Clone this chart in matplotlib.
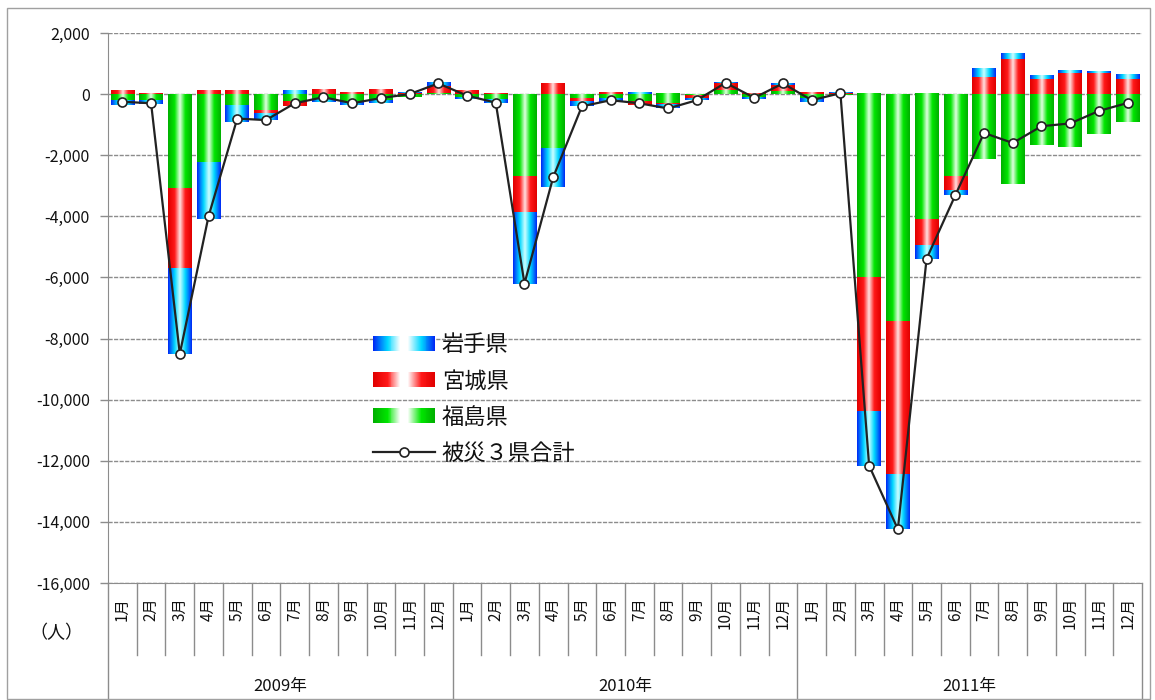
import numpy as np
import matplotlib
matplotlib.use("Agg")
import matplotlib.pyplot as plt
from matplotlib.patches import Rectangle
from matplotlib.legend_handler import HandlerBase
from matplotlib.ticker import FuncFormatter, MultipleLocator

plt.rcParams['font.family'] = ['Noto Sans CJK JP', 'DejaVu Sans']

# ---- data: monthly population change (persons) ----
years = ['2009年', '2010年', '2011年']
months = [f'{m}月' for m in range(1, 13)]

fukushima = [-200, -200, -3100, -2250, -350, -550, -250, -180, -250, -200, -80, 50,
             -100, -200, -2700, -1780, -150, -150, -250, -300, -50, 150, -100, 100,
             -150, -20, -5990, -7460, -4130, -2710, -2110, -2930, -1670, -1730, -1310, -910]
miyagi = [100, 30, -2600, 100, 100, -100, -150, 150, 50, 150, 50, 200,
          100, 20, -1150, 330, -100, 50, -100, -50, -100, 200, 30, 200,
          50, 40, -4370, -4980, -820, -440, 570, 1140, 510, 700, 700, 480]
iwate = [-150, -130, -2800, -1850, -550, -200, 100, -70, -100, -80, 30, 100,
         -50, -100, -2350, -1270, -150, -100, 50, -120, -50, 20, -50, 50,
         -100, 10, -1800, -1800, -440, -160, 270, 190, 110, 70, 60, 140]

series_names = ['岩手県', '宮城県', '福島県']
total_name = '被災３県合計'

W, H = 1155, 700
fig = plt.figure(figsize=(W / 100, H / 100), dpi=100)
fig.patch.set_facecolor('white')

# outer frame of the chart
fig.add_artist(Rectangle((7 / W, 1 - 699 / H), (1150 - 7) / W, (699 - 8) / H,
                         transform=fig.transFigure, fill=False,
                         edgecolor='#a0a0a0', lw=1.0))

left_px, right_px, top_px, bot_px = 108, 1142, 33, 583
ax = fig.add_axes([left_px / W, 1 - bot_px / H, (right_px - left_px) / W, (bot_px - top_px) / H])


def make_gradient(edge, mid, center, n=64, split=0.45, flat=0.0):
    t = np.linspace(0, 1, n)
    d = np.abs(t - 0.5) * 2  # 1 at edges, 0 at center
    edge, mid, center = (np.array(c) / 255.0 for c in (edge, mid, center))
    out = np.zeros((1, n, 3))
    for i, di in enumerate(d):
        if di >= split:
            w = (di - split) / (1 - split)
            out[0, i] = mid * (1 - w) + edge * w
        elif di <= flat:
            out[0, i] = center
        else:
            w = (di - flat) / (split - flat)
            out[0, i] = center * (1 - w) + mid * w
    return np.clip(out, 0, 1)


colors = {
    'blue': ((0, 40, 245), (0, 215, 255), (205, 255, 255)),
    'red': ((225, 0, 0), (255, 25, 25), (255, 225, 225)),
    'green': ((0, 175, 0), (0, 230, 0), (225, 255, 225)),
}
grad_blue = make_gradient(*colors['blue'])
grad_red = make_gradient(*colors['red'])
grad_green = make_gradient(*colors['green'])

x = np.arange(36)
bar_w = 0.82
pos_base = np.zeros(36)
neg_base = np.zeros(36)

# stacking order: Fukushima nearest the axis, then Miyagi, then Iwate
for vals, grad in ((fukushima, grad_green), (miyagi, grad_red), (iwate, grad_blue)):
    v = np.array(vals, dtype=float)
    bottoms = np.where(v >= 0, pos_base, neg_base)
    bars = ax.bar(x, v, bar_w, bottom=bottoms, color='none', edgecolor='none', zorder=2)
    for r in bars.patches:
        h = r.get_height()
        if h == 0:
            continue
        x0, y0, w = r.get_x(), r.get_y(), r.get_width()
        ax.imshow(grad, extent=(x0, x0 + w, min(y0, y0 + h), max(y0, y0 + h)),
                  aspect='auto', interpolation='bilinear', zorder=2)
    pos_base += np.where(v > 0, v, 0)
    neg_base += np.where(v < 0, v, 0)

total = np.array(fukushima) + np.array(miyagi) + np.array(iwate)
line, = ax.plot(x, total, color='#222222', lw=1.6, marker='o', markersize=6.5,
                markerfacecolor='white', markeredgecolor='#222222',
                markeredgewidth=1.2, zorder=5)

ax.set_xlim(-0.5, 35.5)
ax.set_ylim(-16000, 2000)
ax.yaxis.set_major_locator(MultipleLocator(2000))
ax.yaxis.set_major_formatter(FuncFormatter(lambda v, p: f'{int(v):,}'))
ax.grid(axis='y', color='#8c8c8c', lw=1.0, linestyle=(0, (3, 1)), zorder=1)
ax.set_axisbelow(True)
ax.set_xticks([])
ax.tick_params(axis='y', length=6, width=1, color='#8c8c8c', pad=7, labelsize=11.5,
               labelcolor='#111111')
for s in ('top', 'right'):
    ax.spines[s].set_visible(False)
ax.spines['left'].set_color('#8c8c8c')
ax.spines['bottom'].set_color('#8c8c8c')

# category axis: month cells and year groups below the plot
trans = ax.get_xaxis_transform()
ph = bot_px - top_px
month_bot = -(655 - bot_px) / ph
year_bot = -(700 - bot_px) / ph
for i in range(37):
    xb = i - 0.5
    yb = year_bot if i % 12 == 0 else month_bot
    ax.plot([xb, xb], [0, yb], transform=trans, color='#8c8c8c',
            lw=1.0, clip_on=False)
for i in range(36):
    ax.text(x[i], -(597 - bot_px) / ph, months[i % 12], transform=trans,
            rotation=90, ha='center', va='top', fontsize=11, color='#111111')
for k, yname in enumerate(years):
    ax.text(12 * k + 5.5, -(686 - bot_px) / ph, yname, transform=trans,
            ha='center', va='center', fontsize=12, color='#111111')
fig.text(56 / W, 1 - 633 / H, '（人）', ha='center', va='center', fontsize=13,
         color='#111111')


class GradientHandler(HandlerBase):
    def __init__(self, grad):
        super().__init__()
        self.grad = grad

    def create_artists(self, legend, orig_handle, xdescent, ydescent,
                       width, height, fontsize, trans):
        n = self.grad.shape[1]
        arts = []
        for i in range(n):
            arts.append(Rectangle((-xdescent + width * i / n, -ydescent),
                                  width / n * 1.05, height,
                                  facecolor=self.grad[0, i], edgecolor='none',
                                  transform=trans))
        return arts


# legend swatches fade to white in the middle
leg_grads = [make_gradient(c[0], c[1], (255, 255, 255), split=0.55, flat=0.12)
             for c in (colors['blue'], colors['red'], colors['green'])]
proxies = [Rectangle((0, 0), 1, 1) for _ in range(3)]
hmap = {p: GradientHandler(g) for p, g in zip(proxies, leg_grads)}
leg = ax.legend(proxies + [line], series_names + [total_name],
                handler_map=hmap, loc='upper left',
                bbox_to_anchor=((373 - left_px) / (right_px - left_px),
                                (bot_px - 333) / ph),
                frameon=False, fontsize=16, handlelength=2.8, handleheight=0.65,
                handletextpad=0.3, labelspacing=0.6, borderaxespad=0,
                borderpad=0)
for t in leg.get_texts():
    t.set_color('#111111')

fig.savefig('out.png', dpi=100)
